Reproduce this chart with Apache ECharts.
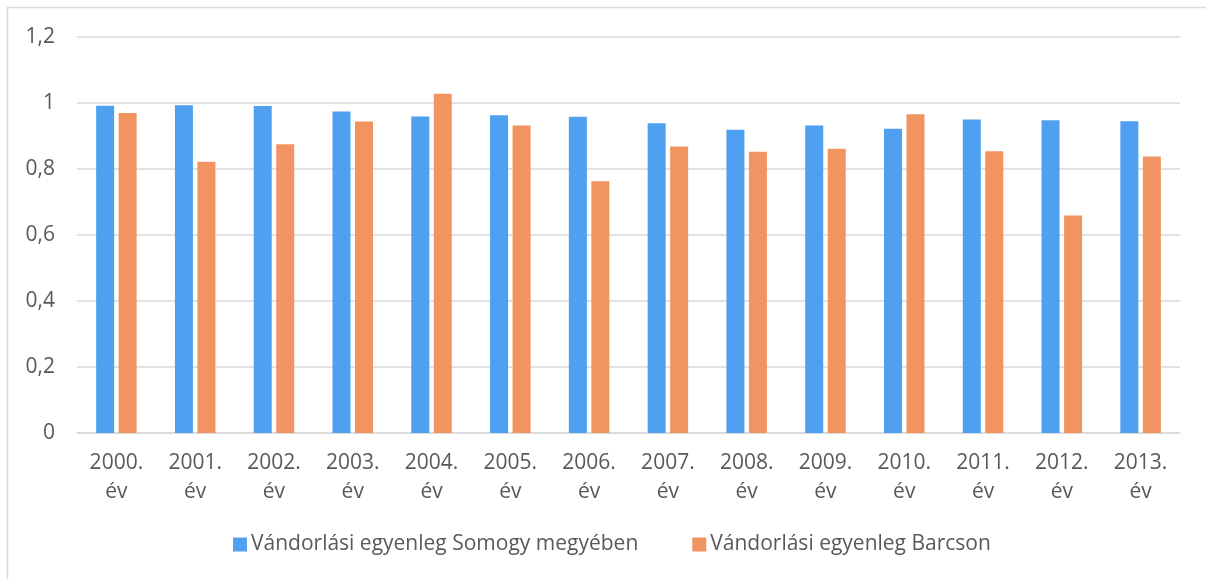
<!DOCTYPE html>
<html>
<head>
<meta charset="utf-8">
<script src="https://cdn.jsdelivr.net/npm/echarts@6/dist/echarts.min.js"></script>
<style>html,body{margin:0;padding:0;background:#fff}#c{width:1206px;height:579px}</style>
</head>
<body>
<div id="c"></div>
<script>
const categories = ['2000. év','2001. év','2002. év','2003. év','2004. év','2005. év','2006. év','2007. év','2008. év','2009. év','2010. év','2011. év','2012. év','2013. év'];
const somogy = [0.992,0.993,0.991,0.974,0.959,0.963,0.958,0.939,0.919,0.932,0.922,0.950,0.948,0.945];
const barcs = [0.970,0.822,0.875,0.944,1.028,0.932,0.763,0.868,0.852,0.861,0.966,0.854,0.659,0.838];
const yTicks = [0,0.2,0.4,0.6,0.8,1,1.2];
const seriesNames = ['Vándorlási egyenleg Somogy megyében','Vándorlási egyenleg Barcson'];

const FONT = 'Open Sans';
const TXT = '#595959';
const chart = echarts.init(document.getElementById('c'));
chart.setOption({
  animation:false,
  textStyle:{fontFamily:FONT},
  graphic:[{type:'rect',shape:{x:7.5,y:7.5,width:1300,height:700},style:{fill:'none',stroke:'#d9d9d9',lineWidth:1.5},silent:true}],
  grid:{left:77,right:26,top:37,bottom:146,containLabel:false},
  legend:{left:233,top:534,padding:0,itemWidth:14,itemHeight:14,itemGap:54,icon:'rect',
    textStyle:{color:TXT,fontSize:21,fontFamily:FONT,padding:[0,0,0,-1]},data:seriesNames},
  xAxis:{type:'category',data:categories,
    axisLine:{lineStyle:{color:'#d9d9d9',width:1.5}},axisTick:{show:false},
    axisLabel:{color:TXT,fontSize:21,lineHeight:29,margin:16,interval:0,
      formatter:v=>v.replace(' ','\n')}},
  yAxis:{type:'value',min:0,max:1.2,interval:0.2,
    axisLine:{show:false},axisTick:{show:false},
    splitLine:{lineStyle:{color:'#d9d9d9',width:1.5}},
    axisLabel:{color:TXT,fontSize:21,margin:22,
      formatter:v=>{const t=yTicks.find(x=>Math.abs(x-v)<1e-9);return String(t!==undefined?t:v).replace('.',',');}}},
  series:[
    {name:seriesNames[0],type:'bar',data:somogy,barWidth:18,barGap:'25%',itemStyle:{color:'#4FA0F0'}},
    {name:seriesNames[1],type:'bar',data:barcs,barWidth:18,barGap:'25%',itemStyle:{color:'#F29462'}}
  ]
});
</script>
</body>
</html>
